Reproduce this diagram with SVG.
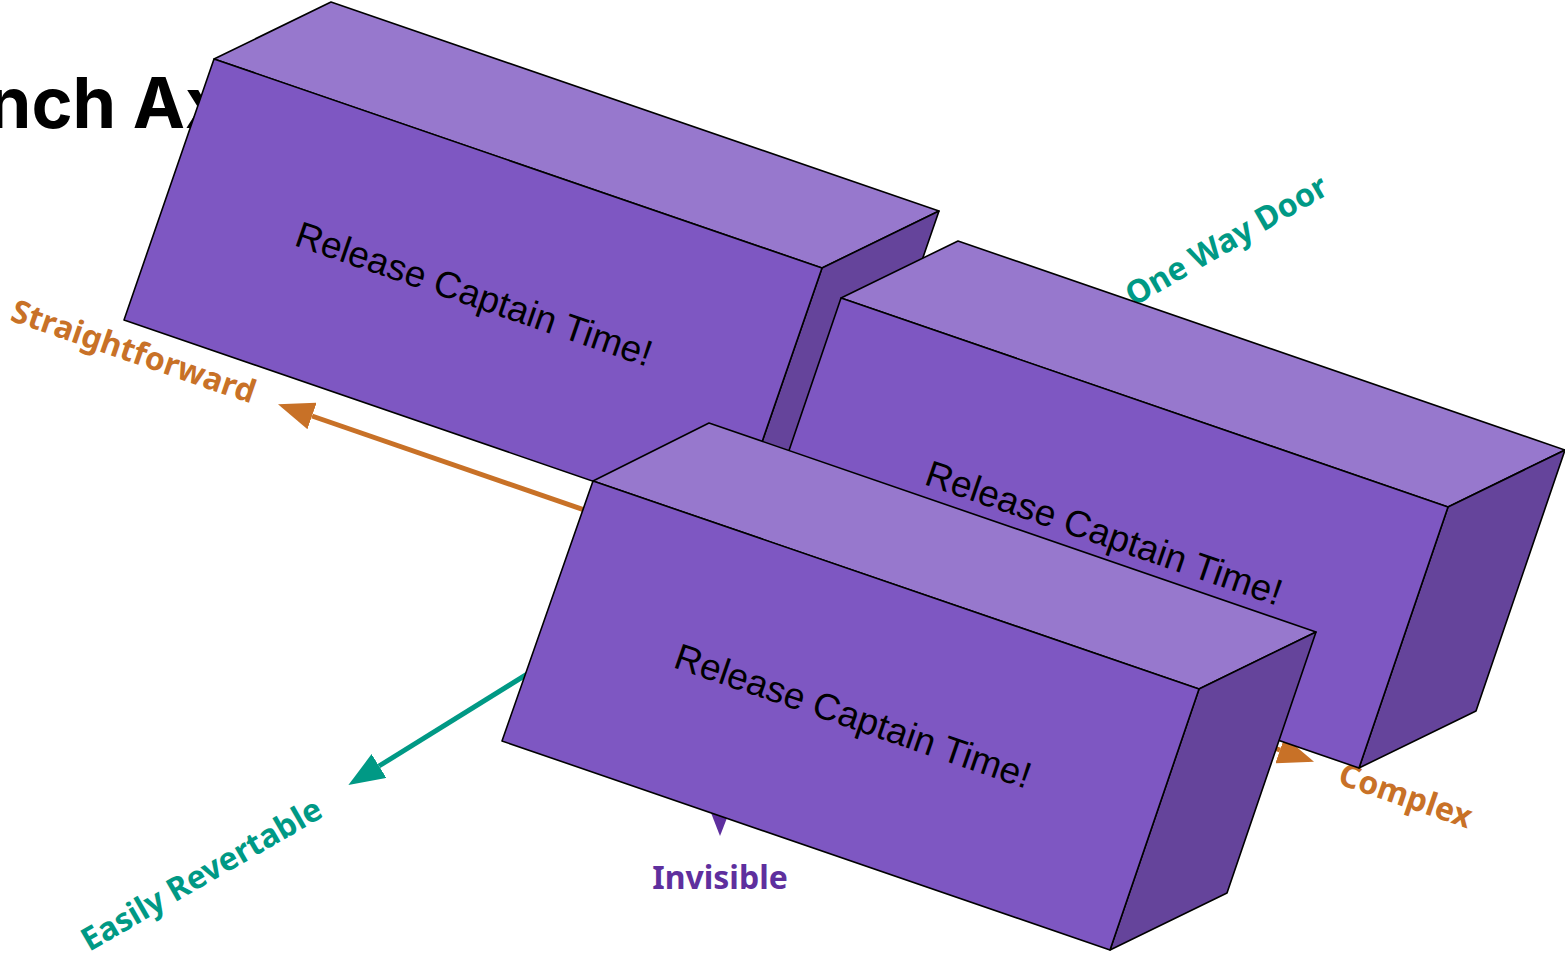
<svg xmlns="http://www.w3.org/2000/svg" width="1565" height="953" viewBox="0 0 1565 953">
<style>
.front{fill:#7e57c2;stroke:#000;stroke-width:1.6;stroke-linejoin:round}
.top{fill:#9778cd;stroke:#000;stroke-width:1.6;stroke-linejoin:round}
.side{fill:#65449b;stroke:#000;stroke-width:1.6;stroke-linejoin:round}
.boxtext{font-family:"Liberation Sans",Arial,sans-serif;font-size:37px;fill:#000}
.lbl{font-family:"Noto Sans","Open Sans",sans-serif;font-weight:bold;font-size:32px}
.title{font-family:Inter,"Liberation Sans",sans-serif;font-weight:bold;font-size:70px;fill:#000}
.ax{fill:none;stroke-width:5}
</style>
<defs>
<marker id="mo" markerUnits="userSpaceOnUse" markerWidth="36" markerHeight="28" viewBox="0 0 36 28" refX="0" refY="14" orient="auto-start-reverse"><path d="M0,0 L36,14 L0,28 z" fill="#c87127"/></marker>
<marker id="mt" markerUnits="userSpaceOnUse" markerWidth="36" markerHeight="28" viewBox="0 0 36 28" refX="0" refY="14" orient="auto-start-reverse"><path d="M0,0 L36,14 L0,28 z" fill="#009985"/></marker>
<marker id="mp" markerUnits="userSpaceOnUse" markerWidth="36" markerHeight="28" viewBox="0 0 36 28" refX="0" refY="14" orient="auto-start-reverse"><path d="M0,0 L36,14 L0,28 z" fill="#5e2f9e"/></marker>
</defs>
<text id="title" class="title" x="-136" y="128">Launch Axes</text>
<g id="connectors">
<line class="ax" stroke="#c87127" x1="1280" y1="750" x2="312" y2="416" marker-start="url(#mo)" marker-end="url(#mo)"/>
<line class="ax" stroke="#009985" x1="1000" y1="381" x2="379" y2="766" marker-end="url(#mt)"/>
<line class="ax" stroke="#5e2f9e" x1="720" y1="300" x2="720" y2="800" marker-end="url(#mp)"/>
</g>
<g id="labels">
<text class="lbl" fill="#c87127" text-anchor="middle" transform="translate(130,362) rotate(19)">Straightforward</text>
<text class="lbl" fill="#c87127" text-anchor="middle" transform="translate(1402,806) rotate(19)">Complex</text>
<text class="lbl" fill="#009985" text-anchor="middle" transform="translate(207,884) rotate(-30)">Easily Revertable</text>
<text class="lbl" fill="#009985" text-anchor="middle" transform="translate(1232,250) rotate(-30)">One Way Door</text>
<text class="lbl" fill="#5e2f9e" text-anchor="middle" x="720" y="889">Invisible</text>
</g>
<g id="box1">
<polygon class="top" points="214,59 331,2 939,211 822,268"/>
<polygon class="side" points="822,268 939,211 849,472 732,529"/>
<polygon class="front" points="214,59 822,268 732,529 124,320"/>
<text class="boxtext" text-anchor="middle" transform="translate(470,306) rotate(19)">Release Captain Time!</text>
</g>
<g id="box2">
<polygon class="top" points="841,298 958,241 1565,450 1448,507"/>
<polygon class="side" points="1448,507 1565,450 1476,711 1359,768"/>
<polygon class="front" points="841,298 1448,507 1359,768 752,559"/>
<text class="boxtext" text-anchor="middle" transform="translate(1100,545) rotate(19)">Release Captain Time!</text>
</g>
<g id="box3">
<polygon class="top" points="593,481 709,423 1316,632 1199,689"/>
<polygon class="side" points="1199,689 1316,632 1227,893 1110,950"/>
<polygon class="front" points="593,481 1199,689 1110,950 502,741"/>
<text class="boxtext" text-anchor="middle" transform="translate(849,728) rotate(19)">Release Captain Time!</text>
</g>
</svg>
